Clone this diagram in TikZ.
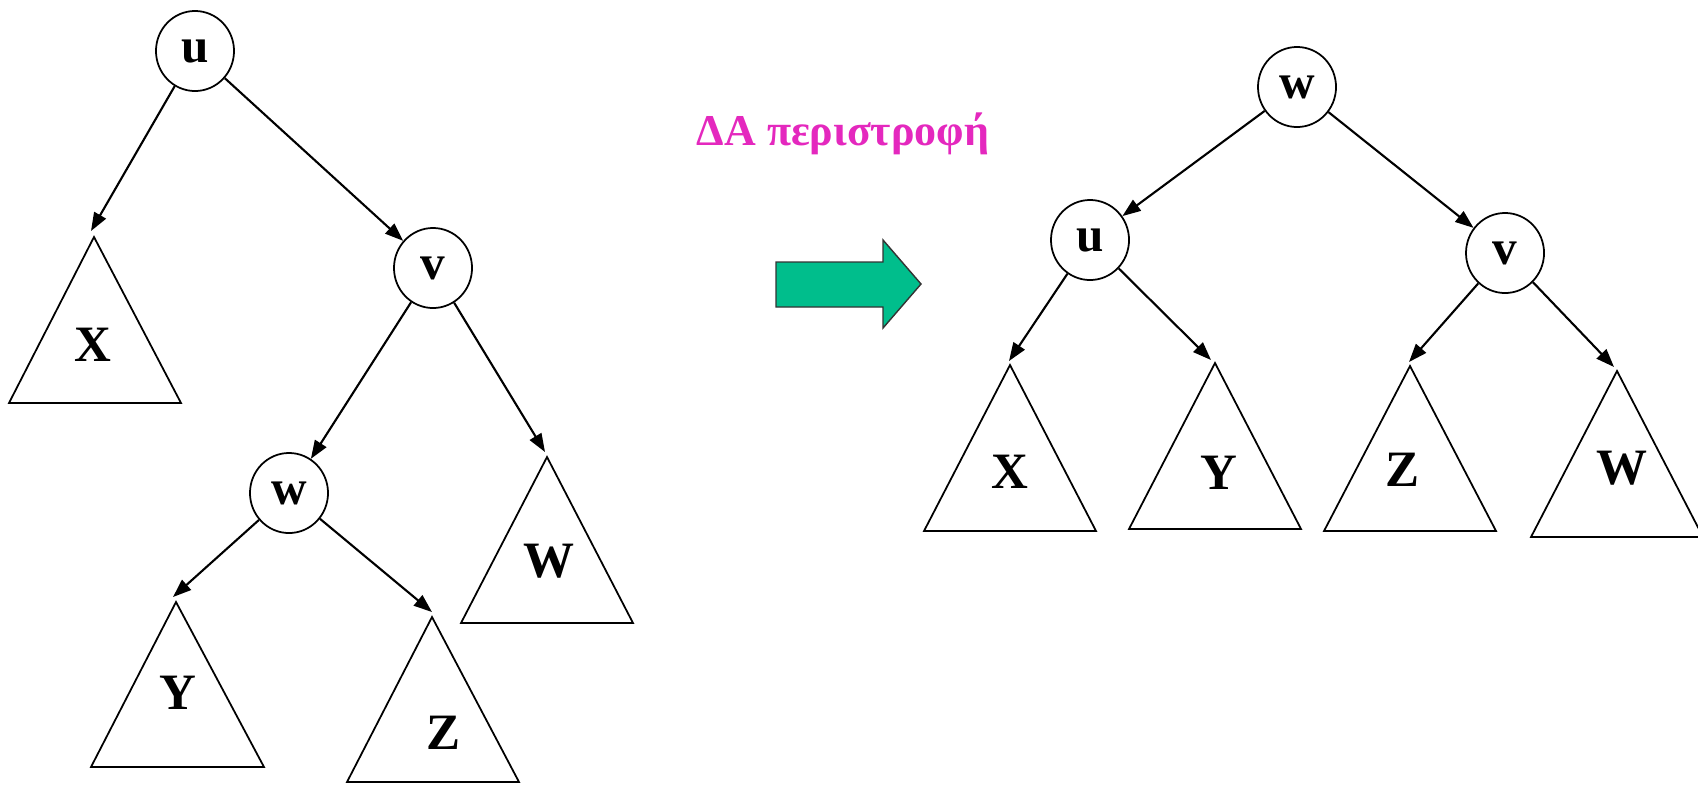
\documentclass[tikz,border=0pt]{standalone}
\usepackage{fontspec}
\setmainfont{Liberation Serif}
\usetikzlibrary{arrows.meta,shapes.geometric}
\definecolor{rotmag}{RGB}{228,40,190}
\definecolor{rotgreen}{RGB}{0,190,140}
\begin{document}
\begin{tikzpicture}[x=0.01cm,y=-0.01cm,
  vert/.style={draw,ellipse,line width=0.5pt,minimum width=0.78cm,minimum height=0.8cm,inner sep=0pt,font=\fontsize{14}{16}\selectfont\bfseries},
  sub/.style={draw,line width=0.5pt},
  lbl/.style={font=\fontsize{14.5}{16}\selectfont\bfseries,inner sep=0pt},
  arr/.style={line width=0.6pt,-{Triangle[length=5.2pt,width=3.8pt]}}]
\useasboundingbox (0,0) rectangle (1698,784);
\clip (0,0) rectangle (1698,784);
% ---------- left tree ----------
\node[vert] (lu) at (195,51) {u};
\node[vert] (lv) at (433,268) {v};
\node[vert] (lw) at (289,493) {w};
\draw[sub] (94,237) -- (181,403) -- (9,403) -- cycle;
\draw[sub] (547,457) -- (633,623) -- (461,623) -- cycle;
\draw[sub] (176,602) -- (264,767) -- (91,767) -- cycle;
\draw[sub] (432,617) -- (519,782) -- (347,782) -- cycle;
\node[lbl] (lX) at (93,345) {X};
\node[lbl] (lW) at (549,561) {W};
\node[lbl] (lY) at (178,693) {Y};
\node[lbl] (lZ) at (443,733) {Z};
\coordinate (lXt) at (91,231);
\coordinate (lWt) at (545,452);
\coordinate (lYt) at (173,597);
\coordinate (lZt) at (432,612);
\draw[arr] (lu) -- (lXt);
\draw[arr] (lu) -- (lv);
\draw[arr] (lv) -- (lw);
\draw[arr] (lv) -- (lWt);
\draw[arr] (lw) -- (lYt);
\draw[arr] (lw) -- (lZt);
% ---------- middle ----------
\node[text=rotmag,font=\fontsize{12.5}{14}\selectfont\bfseries,anchor=base west,inner sep=0pt] (title) at (696,145) {ΔΑ περιστροφή};
\draw[fill=rotgreen,draw=black!80,line width=0.4pt] (776,262) -- (883,262) -- (883,240) -- (921,284) -- (883,328) -- (883,307) -- (776,307) -- cycle;
% ---------- right tree ----------
\node[vert] (rw) at (1297,87) {w};
\node[vert] (ru) at (1090,240) {u};
\node[vert] (rv) at (1505,253) {v};
\draw[sub] (1010,365) -- (1096,531) -- (924,531) -- cycle;
\draw[sub] (1215,363) -- (1301,529) -- (1129,529) -- cycle;
\draw[sub] (1410,366) -- (1496,531) -- (1324,531) -- cycle;
\draw[sub] (1617,371) -- (1703,537) -- (1531,537) -- cycle;
\node[lbl] (rX) at (1010,472) {X};
\node[lbl] (rY) at (1219,473) {Y};
\node[lbl] (rZ) at (1402,470) {Z};
\node[lbl] (rW) at (1622,468) {W};
\coordinate (rXt) at (1009,361);
\coordinate (rYt) at (1211,360);
\coordinate (rZt) at (1409,362);
\coordinate (rWt) at (1614,367);
\draw[arr] (rw) -- (ru);
\draw[arr] (rw) -- (rv);
\draw[arr] (ru) -- (rXt);
\draw[arr] (ru) -- (rYt);
\draw[arr] (rv) -- (rZt);
\draw[arr] (rv) -- (rWt);
\end{tikzpicture}
\end{document}
